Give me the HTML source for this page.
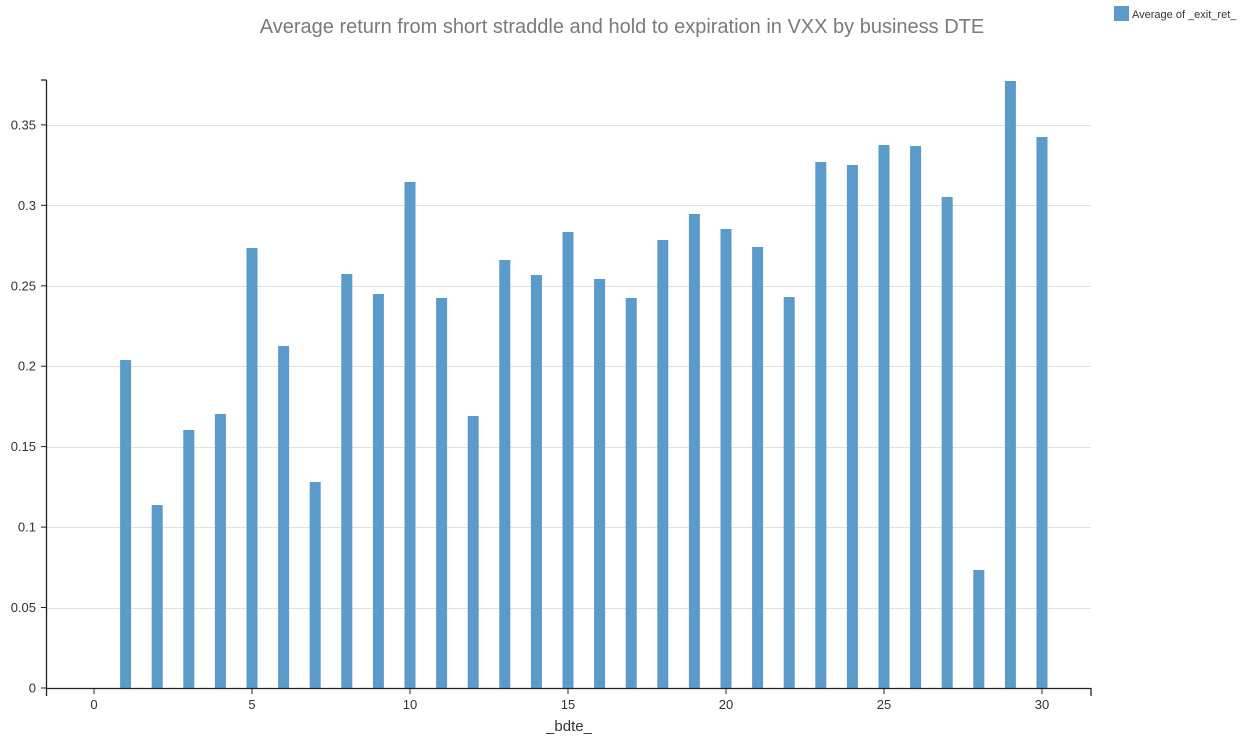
<!DOCTYPE html><html><head><meta charset="utf-8"><style>body{margin:0;background:#fff}svg{display:block}</style></head><body>
<svg width="1244" height="740" xmlns="http://www.w3.org/2000/svg" font-family="Liberation Sans, sans-serif">
<text x="622" y="33" text-anchor="middle" font-size="20" fill="#7a7a7a">Average return from short straddle and hold to expiration in VXX by business DTE</text>
<rect x="1114" y="6" width="15" height="15" fill="#5b9bc9"/>
<text x="1132" y="18" font-size="11" fill="#333">Average of _exit_ret_</text>
<g stroke="#e0e0e0" stroke-width="1">
<line x1="47" x2="1091" y1="608.5" y2="608.5"/><line x1="47" x2="1091" y1="527.5" y2="527.5"/><line x1="47" x2="1091" y1="447.5" y2="447.5"/><line x1="47" x2="1091" y1="366.5" y2="366.5"/><line x1="47" x2="1091" y1="286.5" y2="286.5"/><line x1="47" x2="1091" y1="205.5" y2="205.5"/><line x1="47" x2="1091" y1="125.5" y2="125.5"/>
</g>
<g fill="#5b9bc9">
<rect x="120.1" y="360" width="11" height="328"/>
<rect x="151.7" y="505" width="11" height="183"/>
<rect x="183.3" y="430" width="11" height="258"/>
<rect x="214.9" y="414" width="11" height="274"/>
<rect x="246.5" y="248" width="11" height="440"/>
<rect x="278.1" y="346" width="11" height="342"/>
<rect x="309.7" y="482" width="11" height="206"/>
<rect x="341.3" y="274" width="11" height="414"/>
<rect x="372.9" y="294" width="11" height="394"/>
<rect x="404.5" y="182" width="11" height="506"/>
<rect x="436.1" y="298" width="11" height="390"/>
<rect x="467.7" y="416" width="11" height="272"/>
<rect x="499.3" y="260" width="11" height="428"/>
<rect x="530.9" y="275" width="11" height="413"/>
<rect x="562.5" y="232" width="11" height="456"/>
<rect x="594.1" y="279" width="11" height="409"/>
<rect x="625.7" y="298" width="11" height="390"/>
<rect x="657.3" y="240" width="11" height="448"/>
<rect x="688.9" y="214" width="11" height="474"/>
<rect x="720.5" y="229" width="11" height="459"/>
<rect x="752.1" y="247" width="11" height="441"/>
<rect x="783.7" y="297" width="11" height="391"/>
<rect x="815.3" y="162" width="11" height="526"/>
<rect x="846.9" y="165" width="11" height="523"/>
<rect x="878.5" y="145" width="11" height="543"/>
<rect x="910.1" y="146" width="11" height="542"/>
<rect x="941.7" y="197" width="11" height="491"/>
<rect x="973.3" y="570" width="11" height="118"/>
<rect x="1004.9" y="81" width="11" height="607"/>
<rect x="1036.5" y="137" width="11" height="551"/>
</g>
<g stroke="#222" stroke-width="1.3" fill="none">
<line x1="46.5" y1="80" x2="46.5" y2="688"/><line x1="41" y1="80" x2="46.5" y2="80"/>
<line x1="46" y1="688.5" x2="1091" y2="688.5"/><line x1="46.5" y1="688" x2="46.5" y2="696"/><line x1="1091" y1="688" x2="1091" y2="696"/>
</g>
<g stroke="#222" stroke-width="1">
<line x1="41" x2="47" y1="688" y2="688"/><line x1="41" x2="47" y1="607.5" y2="607.5"/><line x1="41" x2="47" y1="527.1" y2="527.1"/><line x1="41" x2="47" y1="446.6" y2="446.6"/><line x1="41" x2="47" y1="366.2" y2="366.2"/><line x1="41" x2="47" y1="285.8" y2="285.8"/><line x1="41" x2="47" y1="205.3" y2="205.3"/><line x1="41" x2="47" y1="124.9" y2="124.9"/>
<line x1="94" x2="94" y1="688" y2="694"/><line x1="252" x2="252" y1="688" y2="694"/><line x1="410" x2="410" y1="688" y2="694"/><line x1="568" x2="568" y1="688" y2="694"/><line x1="726" x2="726" y1="688" y2="694"/><line x1="884" x2="884" y1="688" y2="694"/><line x1="1042" x2="1042" y1="688" y2="694"/>
</g>
<g font-size="13" fill="#333" text-anchor="end">
<text x="36" y="692.5">0</text><text x="36" y="612">0.05</text><text x="36" y="531.6">0.1</text><text x="36" y="451.1">0.15</text><text x="36" y="370.7">0.2</text><text x="36" y="290.3">0.25</text><text x="36" y="209.8">0.3</text><text x="36" y="129.4">0.35</text>
</g>
<g font-size="13" fill="#333" text-anchor="middle">
<text x="94" y="709">0</text><text x="252" y="709">5</text><text x="410" y="709">10</text><text x="568" y="709">15</text><text x="726" y="709">20</text><text x="884" y="709">25</text><text x="1042" y="709">30</text>
</g>
<text x="569" y="731" text-anchor="middle" font-size="15" fill="#333">_bdte_</text>
</svg></body></html>
